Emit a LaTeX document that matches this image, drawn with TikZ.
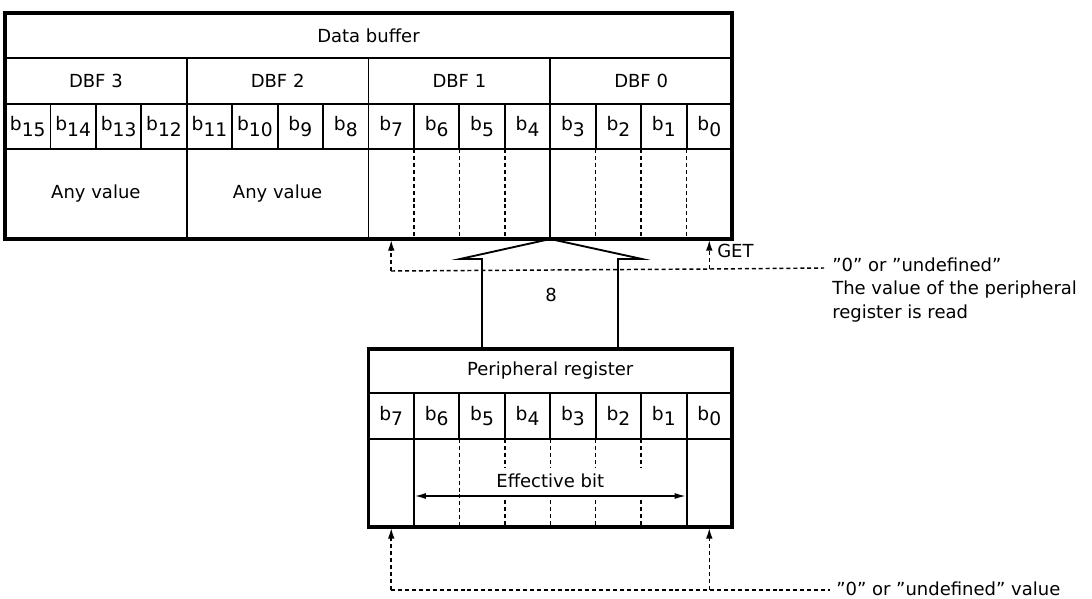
\documentclass[tikz,border=0pt]{standalone}
\usepackage{fontspec}
\setmainfont{DejaVu Sans}
\usetikzlibrary{arrows.meta}
\newcommand\bsub[1]{b\raisebox{-4pt}{#1}}
\begin{document}
\begin{tikzpicture}[x=0.75pt,y=-0.75pt,
  outer/.style={line width=2.3pt},
  inner/.style={line width=1.4pt},
  dsh/.style={line width=1.1pt,dash pattern=on 3pt off 2.2pt},
  txt/.style={font=\fontsize{13.5}{16}\selectfont,inner sep=0pt},
  bit/.style={font=\fontsize{14}{16}\selectfont,inner sep=0pt},
  tip/.style={-{Latex[length=8pt,width=5pt]}},
  dtip/.style={{Latex[length=9pt,width=4.5pt]}-{Latex[length=9pt,width=4.5pt]}},
]
\useasboundingbox (0,0) rectangle (1092,599);
% ---------------- Data buffer ----------------
\def\cw{45.4375}
\foreach \i in {1,2,3,5,6,7,9,10,11,13,14,15}{
  \draw[inner] ({5+\cw*\i},104) -- ({5+\cw*\i},149);
}
\foreach \i in {4,8,12}{
  \draw[inner] ({5+\cw*\i},58) -- ({5+\cw*\i},239);
}
\foreach \i in {9,10,11,13,14,15}{
  \draw[dsh] ({5+\cw*\i},149) -- ({5+\cw*\i},239);
}
\draw[inner] (5,58) -- (732,58);
\draw[inner] (5,104) -- (732,104);
\draw[inner] (5,149) -- (732,149);
\draw[outer] (5,13) rectangle (732,239);
\node[txt] (dbuf) at (368.5,35.5) {Data buffer};
\node[txt] (dbf3) at ({5+\cw*2},81) {DBF 3};
\node[txt] (dbf2) at ({5+\cw*6},81) {DBF 2};
\node[txt] (dbf1) at ({5+\cw*10},81) {DBF 1};
\node[txt] (dbf0) at ({5+\cw*14},81) {DBF 0};
\foreach \i in {0,...,15}{
  \pgfmathtruncatemacro\n{15-\i}
  \node[bit] (db\n) at ({5+\cw*(\i+0.5)},126.5) {\bsub{\n}};
}
\node[txt] (any3) at ({5+\cw*2},194) {Any value};
\node[txt] (any2) at ({5+\cw*6},194) {Any value};
% ---------------- Peripheral register ----------------
\foreach \i in {9,...,15}{
  \draw[inner] ({5+\cw*\i},393) -- ({5+\cw*\i},439);
}
\draw[inner] ({5+\cw*9},439) -- ({5+\cw*9},527);
\draw[inner] ({5+\cw*15},439) -- ({5+\cw*15},527);
\draw[dsh] ({5+\cw*10},439) -- ({5+\cw*10},527);
\foreach \i in {11,...,14}{
  \draw[dsh] ({5+\cw*\i},439) -- ({5+\cw*\i},468);
  \draw[dsh] ({5+\cw*\i},500) -- ({5+\cw*\i},527);
}
\draw[inner] (368.5,393) -- (732,393);
\draw[inner] (368.5,439) -- (732,439);
\draw[outer] (368.5,349) rectangle (732,527);
\node[txt] (preg) at (550.25,371) {Peripheral register};
\foreach \i in {8,...,15}{
  \pgfmathtruncatemacro\n{15-\i}
  \node[bit] (pr\n) at ({5+\cw*(\i+0.5)},416) {\bsub{\n}};
}
\node[txt] (eff) at (550.25,481) {Effective bit};
\coordinate (effL) at ({5+\cw*9},496);
\coordinate (effR) at ({5+\cw*15},496);
\draw[inner,dtip] (effL) -- (effR);
% ---------------- Hollow transfer arrow ----------------
\coordinate (htip) at (550.25,239);
\coordinate (hbl) at (460,259);
\coordinate (hbr) at (642,259);
\coordinate (hsl) at (482,259);
\coordinate (hsr) at (618,259);
\coordinate (hel) at (482,349);
\coordinate (her) at (618,349);
\draw[inner,line join=miter] (hel) -- (hsl) -- (hbl) -- (htip) -- (hbr) -- (hsr) -- (her);
\node[txt] (eight) at (551,295) {8};
% ---------------- GET dashed arrows ----------------
\coordinate (gl) at ({5+\cw*8.5},271);
\coordinate (gr) at ({5+\cw*15.5},269);
\coordinate (gend) at (824,268);
\coordinate (glt) at ({5+\cw*8.5},240);
\coordinate (grt) at ({5+\cw*15.5},240);
\draw[dsh] (gl) -- (gr) -- (gend);
\draw[dsh,tip] (gl) -- (glt);
\draw[dsh,tip] (gr) -- (grt);
\node[txt,anchor=west] (get) at (717,251) {GET};
\node[txt,anchor=west] (r1) at (832,265) {"0" or "undefined"};
\node[txt,anchor=west] (r2) at (832,290) {The value of the peripheral};
\node[txt,anchor=west] (r3) at (832,314) {register is read};
% ---------------- Bottom dashed arrows ----------------
\coordinate (bl) at ({5+\cw*8.5},590);
\coordinate (br) at ({5+\cw*15.5},590);
\coordinate (bend) at (830,590);
\coordinate (blt) at ({5+\cw*8.5},528);
\coordinate (brt) at ({5+\cw*15.5},528);
\draw[dsh] (bl) -- (br) -- (bend);
\draw[dsh,tip] (bl) -- (blt);
\draw[dsh,tip] (br) -- (brt);
\node[txt,anchor=west] (b1) at (836,589) {"0" or "undefined" value};
\end{tikzpicture}
\end{document}
